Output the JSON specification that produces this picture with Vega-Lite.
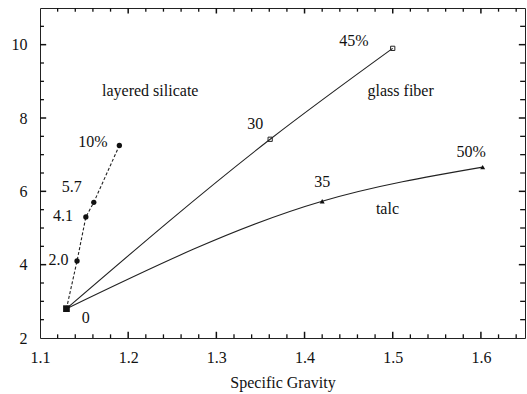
{
  "$schema": "https://vega.github.io/schema/vega-lite/v6.json",
  "autosize": "none",
  "width": 485,
  "height": 330,
  "padding": {"left": 40, "top": 8, "right": 2, "bottom": 56},
  "background": "white",
  "config": {
    "view": {"stroke": "#222", "strokeWidth": 1},
    "font": "Liberation Serif",
    "axis": {"grid": false, "domain": false, "ticks": false, "tickSize": 0, "labelColor": "#111", "labelFont": "Liberation Serif", "titleFont": "Liberation Serif", "labelFontSize": 16, "titleFontSize": 16, "titleFontWeight": "normal", "labelFlush": false, "titleColor": "#111"}
  },
  "datasets": {
    "curves": [
      {"series": "layered silicate", "x": 1.13, "y": 2.8, "o": 0},
      {"series": "layered silicate", "x": 1.142, "y": 4.1, "o": 1},
      {"series": "layered silicate", "x": 1.152, "y": 5.3, "o": 2},
      {"series": "layered silicate", "x": 1.161, "y": 5.7, "o": 3},
      {"series": "layered silicate", "x": 1.19, "y": 7.25, "o": 4},
      {"series": "glass fiber", "x": 1.13, "y": 2.8, "o": 0},
      {"series": "glass fiber", "x": 1.361, "y": 7.42, "o": 1},
      {"series": "glass fiber", "x": 1.5, "y": 9.9, "o": 2},
      {"series": "talc", "x": 1.13, "y": 2.8, "o": 0},
      {"series": "talc", "x": 1.42, "y": 5.73, "o": 1},
      {"series": "talc", "x": 1.602, "y": 6.66, "o": 2}
    ],
    "labels": [
      {"text": "layered silicate", "x": 1.225, "y": 8.74},
      {"text": "glass fiber", "x": 1.509, "y": 8.74},
      {"text": "talc", "x": 1.494, "y": 5.51},
      {"text": "10%", "x": 1.16, "y": 7.34},
      {"text": "5.7", "x": 1.136, "y": 6.11},
      {"text": "4.1", "x": 1.126, "y": 5.34},
      {"text": "2.0", "x": 1.121, "y": 4.14},
      {"text": "0", "x": 1.152, "y": 2.55},
      {"text": "30", "x": 1.344, "y": 7.84},
      {"text": "45%", "x": 1.456, "y": 10.1},
      {"text": "35", "x": 1.42, "y": 6.25},
      {"text": "50%", "x": 1.589, "y": 7.07}
    ],
    "xmaj": [{"x": 1.2}, {"x": 1.3}, {"x": 1.4}, {"x": 1.5}, {"x": 1.6}],
    "xmin": [{"x": 1.12}, {"x": 1.14}, {"x": 1.16}, {"x": 1.18}, {"x": 1.22}, {"x": 1.24}, {"x": 1.26}, {"x": 1.28}, {"x": 1.32}, {"x": 1.34}, {"x": 1.36}, {"x": 1.38}, {"x": 1.42}, {"x": 1.44}, {"x": 1.46}, {"x": 1.48}, {"x": 1.52}, {"x": 1.54}, {"x": 1.56}, {"x": 1.58}, {"x": 1.62}, {"x": 1.64}],
    "ymaj": [{"y": 4}, {"y": 6}, {"y": 8}, {"y": 10}],
    "ymin": [{"y": 2.5}, {"y": 3}, {"y": 3.5}, {"y": 4.5}, {"y": 5}, {"y": 5.5}, {"y": 6.5}, {"y": 7}, {"y": 7.5}, {"y": 8.5}, {"y": 9}, {"y": 9.5}, {"y": 10.5}]
  },
  "layer": [
    {
      "data": {"name": "curves"},
      "transform": [{"filter": "datum.series != 'layered silicate'"}],
      "mark": {"type": "line", "interpolate": "monotone", "color": "#222", "strokeWidth": 1.1},
      "encoding": {
        "x": {"field": "x", "type": "quantitative", "scale": {"domain": [1.1, 1.65], "nice": false, "zero": false},
              "axis": {"values": [1.1, 1.2, 1.3, 1.4, 1.5, 1.6], "format": ".1f", "labelPadding": 11, "title": "Specific Gravity", "titlePadding": 9}},
        "y": {"field": "y", "type": "quantitative", "scale": {"domain": [2, 11], "nice": false, "zero": false},
              "axis": {"values": [2, 4, 6, 8, 10], "labelPadding": 13, "title": null}},
        "detail": {"field": "series"},
        "order": {"field": "o"}
      }
    },
    {
      "data": {"name": "xmaj"},
      "mark": {"type": "rule", "color": "#111", "strokeWidth": 1.5},
      "encoding": {"x": {"field": "x", "type": "quantitative"}, "y": {"datum": 2}, "y2": {"datum": 2.17}}
    },
    {
      "data": {"name": "xmin"},
      "mark": {"type": "rule", "color": "#111", "strokeWidth": 1.3},
      "encoding": {"x": {"field": "x", "type": "quantitative"}, "y": {"datum": 2}, "y2": {"datum": 2.1}}
    },
    {
      "data": {"name": "xmaj"},
      "mark": {"type": "rule", "color": "#111", "strokeWidth": 1.5},
      "encoding": {"x": {"field": "x", "type": "quantitative"}, "y": {"datum": 11}, "y2": {"datum": 10.85}}
    },
    {
      "data": {"name": "xmin"},
      "mark": {"type": "rule", "color": "#111", "strokeWidth": 1.3},
      "encoding": {"x": {"field": "x", "type": "quantitative"}, "y": {"datum": 11}, "y2": {"datum": 10.9}}
    },
    {
      "data": {"name": "ymaj"},
      "mark": {"type": "rule", "color": "#111", "strokeWidth": 1.5},
      "encoding": {"y": {"field": "y", "type": "quantitative"}, "x": {"datum": 1.1}, "x2": {"datum": 1.107}}
    },
    {
      "data": {"name": "ymin"},
      "mark": {"type": "rule", "color": "#111", "strokeWidth": 1.3},
      "encoding": {"y": {"field": "y", "type": "quantitative"}, "x": {"datum": 1.1}, "x2": {"datum": 1.1045}}
    },
    {
      "data": {"name": "ymaj"},
      "mark": {"type": "rule", "color": "#111", "strokeWidth": 1.5},
      "encoding": {"y": {"field": "y", "type": "quantitative"}, "x": {"datum": 1.65}, "x2": {"datum": 1.643}}
    },
    {
      "data": {"name": "ymin"},
      "mark": {"type": "rule", "color": "#111", "strokeWidth": 1.3},
      "encoding": {"y": {"field": "y", "type": "quantitative"}, "x": {"datum": 1.65}, "x2": {"datum": 1.6445}}
    },
    {
      "data": {"name": "curves"},
      "transform": [{"filter": "datum.series == 'layered silicate'"}],
      "mark": {"type": "line", "color": "#222", "strokeWidth": 1.1, "strokeDash": [3, 2]},
      "encoding": {
        "x": {"field": "x", "type": "quantitative"},
        "y": {"field": "y", "type": "quantitative"},
        "order": {"field": "o"}
      }
    },
    {
      "data": {"name": "curves"},
      "transform": [{"filter": "datum.series == 'layered silicate' && datum.o > 0"}],
      "mark": {"type": "point", "shape": "circle", "filled": true, "color": "#111", "size": 28, "opacity": 1},
      "encoding": {
        "x": {"field": "x", "type": "quantitative"},
        "y": {"field": "y", "type": "quantitative"}
      }
    },
    {
      "data": {"name": "curves"},
      "transform": [{"filter": "datum.o == 0 && datum.series == 'talc'"}],
      "mark": {"type": "point", "shape": "square", "filled": true, "color": "#111", "size": 45, "opacity": 1},
      "encoding": {
        "x": {"field": "x", "type": "quantitative"},
        "y": {"field": "y", "type": "quantitative"}
      }
    },
    {
      "data": {"name": "curves"},
      "transform": [{"filter": "datum.series == 'glass fiber' && datum.o > 0"}],
      "mark": {"type": "point", "shape": "square", "filled": false, "color": "#222", "size": 18, "strokeWidth": 1, "opacity": 1},
      "encoding": {
        "x": {"field": "x", "type": "quantitative"},
        "y": {"field": "y", "type": "quantitative"}
      }
    },
    {
      "data": {"name": "curves"},
      "transform": [{"filter": "datum.series == 'talc' && datum.o > 0"}],
      "mark": {"type": "point", "shape": "triangle-up", "filled": true, "color": "#111", "size": 25, "opacity": 1},
      "encoding": {
        "x": {"field": "x", "type": "quantitative"},
        "y": {"field": "y", "type": "quantitative"}
      }
    },
    {
      "data": {"name": "labels"},
      "mark": {"type": "text", "font": "Liberation Serif", "fontSize": 16, "color": "#111", "align": "center", "baseline": "middle"},
      "encoding": {
        "x": {"field": "x", "type": "quantitative"},
        "y": {"field": "y", "type": "quantitative"},
        "text": {"field": "text"}
      }
    }
  ]
}
